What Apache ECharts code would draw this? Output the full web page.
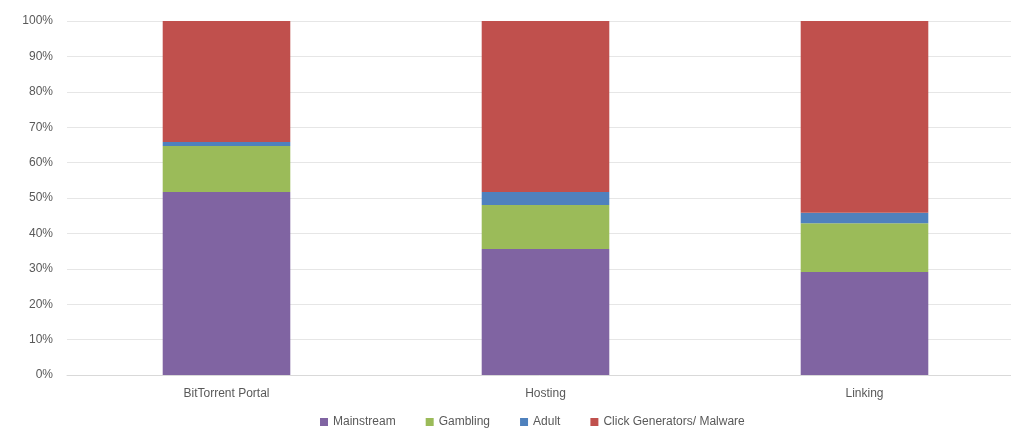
<!DOCTYPE html>
<html><head><meta charset="utf-8">
<script src="https://cdn.jsdelivr.net/npm/echarts@6/dist/echarts.min.js"></script>
<style>html,body{margin:0;padding:0;background:#fff}#c{width:1011px;height:430px}</style>
</head><body><div id="c"></div>
<script>
const categories = ['BitTorrent Portal', 'Hosting', 'Linking'];
const mainstream = [51.7, 35.6, 29.1];
const gambling = [13.0, 12.4, 13.8];
const adult = [1.1, 3.7, 2.9];
const clickMalware = [34.2, 48.3, 54.2];
const yTicks = [0, 10, 20, 30, 40, 50, 60, 70, 80, 90, 100];

const font = 'Liberation Sans Narrow, Liberation Sans, sans-serif';
const mk = (name, data, color) => ({
  name, type: 'bar', stack: 'total', data, barWidth: '40%',
  itemStyle: { color }, emphasis: { disabled: true }
});
const chart = echarts.init(document.getElementById('c'));
chart.setOption({
  animation: false,
  grid: { left: 67, top: 21, width: 957, height: 354, containLabel: false, outerBoundsMode: 'none' },
  legend: {
    top: 411, left: 315,
    itemWidth: 8, itemHeight: 8, itemGap: 30, icon: 'rect',
    textStyle: { color: '#595959', fontSize: 12, fontFamily: font },
    data: ['Mainstream', 'Gambling', 'Adult', 'Click Generators/ Malware']
  },
  xAxis: {
    type: 'category', data: categories,
    axisLine: { lineStyle: { color: '#d9d9d9' } },
    axisTick: { show: false },
    axisLabel: { color: '#595959', fontSize: 12, fontFamily: font, margin: 13 }
  },
  yAxis: {
    type: 'value', min: 0, max: 100, interval: 10,
    axisLabel: { color: '#595959', fontSize: 12, fontFamily: font, margin: 14,
      formatter: v => yTicks.includes(v) ? v + '%' : '' },
    splitLine: { lineStyle: { color: '#e6e6e6' } },
    axisLine: { show: false }, axisTick: { show: false }
  },
  series: [
    mk('Mainstream', mainstream, '#8064A2'),
    mk('Gambling', gambling, '#9BBB59'),
    mk('Adult', adult, '#4F81BD'),
    mk('Click Generators/ Malware', clickMalware, '#C0504D')
  ]
});
</script></body></html>
